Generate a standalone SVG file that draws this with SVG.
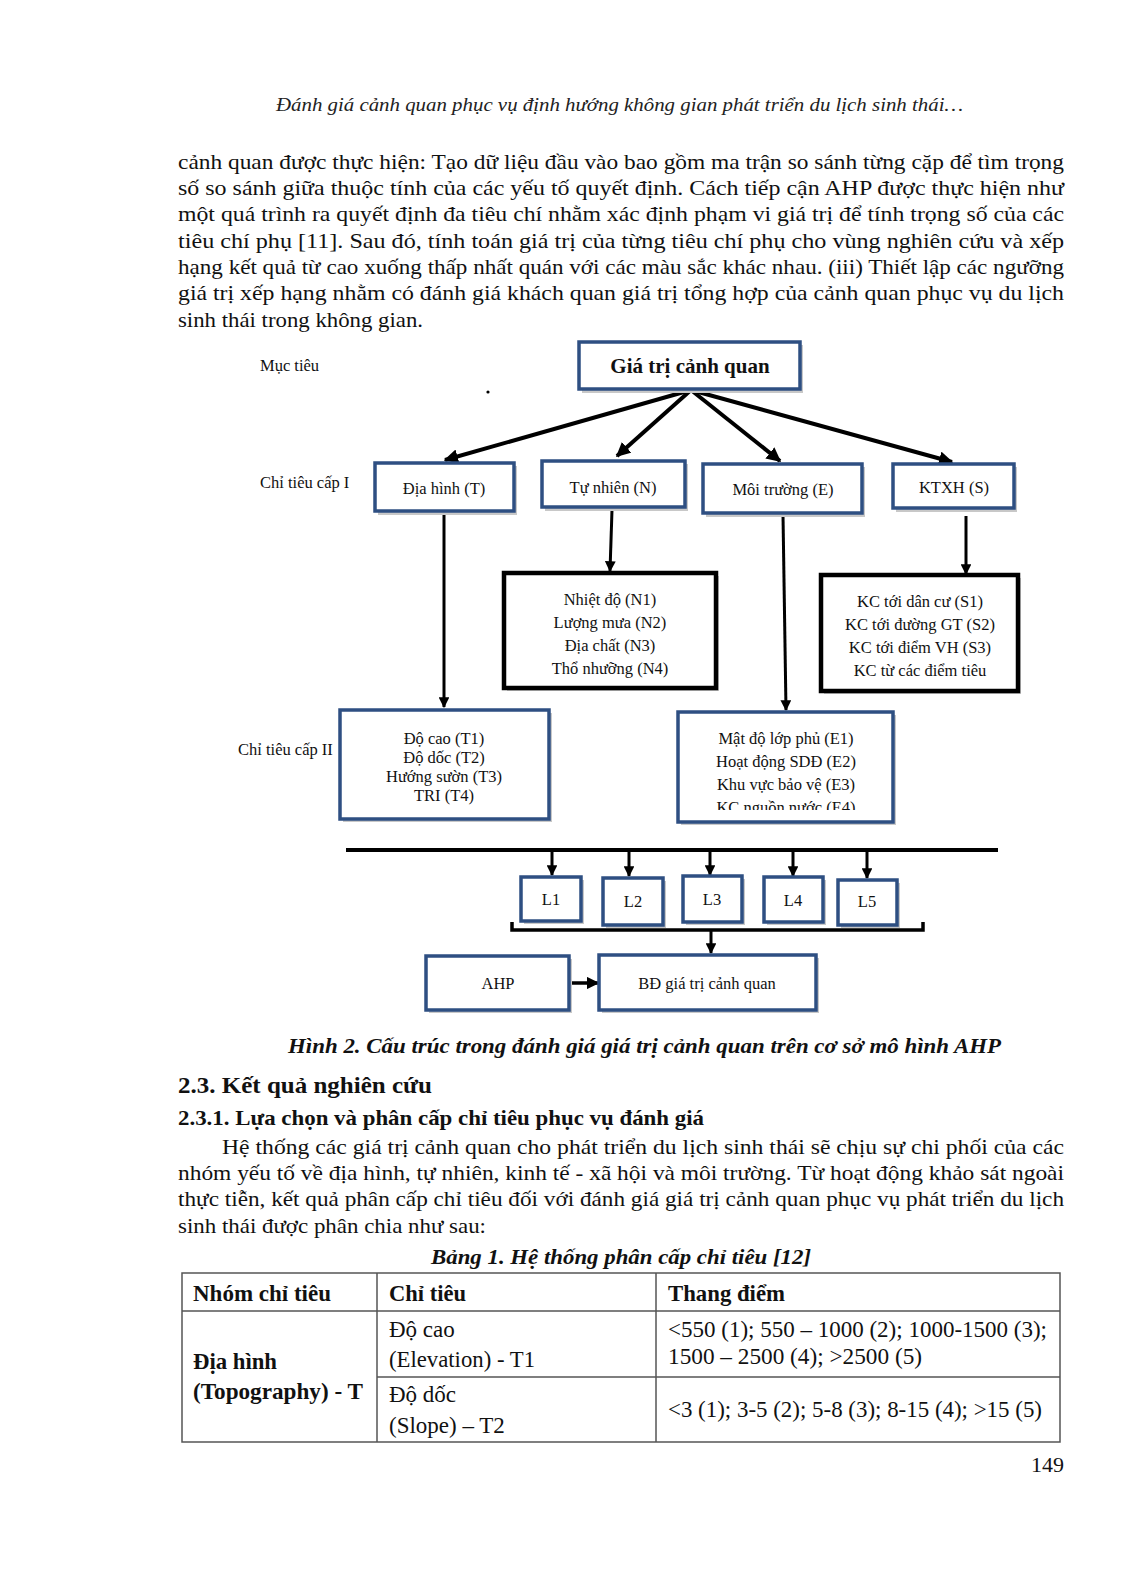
<svg xmlns="http://www.w3.org/2000/svg" width="1122" height="1594" viewBox="0 0 1122 1594">
<style>
.body{font-family:"Liberation Serif",serif;font-size:22px;fill:#111;}
.tbt{font-family:"Liberation Serif",serif;font-size:23px;fill:#111;}
.hdr{font-family:"Liberation Serif",serif;font-size:18px;font-style:italic;fill:#222;}
.lbl{font-family:"Liberation Serif",serif;font-size:16.5px;fill:#111;}
.bt{font-family:"Liberation Serif",serif;font-size:16.5px;fill:#111;text-anchor:middle;}
.bx{fill:#fff;stroke:#2E4F82;stroke-width:3.5;}
.kx{fill:#fff;stroke:#000;stroke-width:4.5;}
.sh{fill:#c8c8c8;}
.ln{stroke:#000;fill:none;}
.b{font-weight:bold;}
.bi{font-weight:bold;font-style:italic;}
.tb{stroke:#555;stroke-width:1.5;fill:none;}
</style>
<defs>
<marker id="ah" viewBox="0 0 10 10" refX="9" refY="5" markerWidth="3.6" markerHeight="3.6" orient="auto" markerUnits="strokeWidth">
<path d="M0,0 L10,5 L0,10 z" fill="#000"/>
</marker>
<marker id="ah2" viewBox="0 0 10 10" refX="9" refY="5" markerWidth="3.6" markerHeight="3.6" orient="auto" markerUnits="strokeWidth">
<path d="M0,0 L10,5 L0,10 z" fill="#000"/>
</marker>
<clipPath id="clipE"><rect x="678" y="712" width="215" height="98"/></clipPath>
</defs>
<rect width="1122" height="1594" fill="#fff"/>

<g id="header">
<text class="hdr" x="276" y="111" textLength="687" lengthAdjust="spacingAndGlyphs">Đánh giá cảnh quan phục vụ định hướng không gian phát triển du lịch sinh thái…</text>
</g>

<g id="para1" class="body">
<text x="178" y="169" textLength="886" lengthAdjust="spacingAndGlyphs">cảnh quan được thực hiện: Tạo dữ liệu đầu vào bao gồm ma trận so sánh từng cặp để tìm trọng</text>
<text x="178" y="195" textLength="886" lengthAdjust="spacingAndGlyphs">số so sánh giữa thuộc tính của các yếu tố quyết định. Cách tiếp cận AHP được thực hiện như</text>
<text x="178" y="221" textLength="886" lengthAdjust="spacingAndGlyphs">một quá trình ra quyết định đa tiêu chí nhằm xác định phạm vi giá trị để tính trọng số của các</text>
<text x="178" y="248" textLength="886" lengthAdjust="spacingAndGlyphs">tiêu chí phụ [11]. Sau đó, tính toán giá trị của từng tiêu chí phụ cho vùng nghiên cứu và xếp</text>
<text x="178" y="274" textLength="886" lengthAdjust="spacingAndGlyphs">hạng kết quả từ cao xuống thấp nhất quán với các màu sắc khác nhau. (iii) Thiết lập các ngưỡng</text>
<text x="178" y="300" textLength="886" lengthAdjust="spacingAndGlyphs">giá trị xếp hạng nhằm có đánh giá khách quan giá trị tổng hợp của cảnh quan phục vụ du lịch</text>
<text x="178" y="327" textLength="245" lengthAdjust="spacingAndGlyphs">sinh thái trong không gian.</text>
</g>

<g id="level-labels" class="lbl">
<text x="260" y="371">Mục tiêu</text>
<text x="260" y="488">Chỉ tiêu cấp I</text>
<text x="238" y="755">Chỉ tiêu cấp II</text>
</g>
<circle cx="488" cy="392" r="1.6" fill="#000"/>

<g id="connectors">
<line class="ln" stroke-width="4" x1="691" y1="390" x2="445" y2="460" marker-end="url(#ah)"/>
<line class="ln" stroke-width="4" x1="691" y1="390" x2="617" y2="456" marker-end="url(#ah)"/>
<line class="ln" stroke-width="4" x1="691" y1="390" x2="780" y2="461" marker-end="url(#ah)"/>
<line class="ln" stroke-width="4" x1="691" y1="390" x2="952" y2="462" marker-end="url(#ah)"/>
<line class="ln" stroke-width="3" x1="444" y1="512" x2="444" y2="707" marker-end="url(#ah2)"/>
<line class="ln" stroke-width="3" x1="612" y1="510" x2="610" y2="571" marker-end="url(#ah2)"/>
<line class="ln" stroke-width="3" x1="783" y1="515" x2="786" y2="710" marker-end="url(#ah2)"/>
<line class="ln" stroke-width="3" x1="966" y1="516" x2="966" y2="574" marker-end="url(#ah2)"/>
<line class="ln" stroke-width="4" x1="346" y1="850" x2="998" y2="850"/>
<line class="ln" stroke-width="3" x1="552" y1="852" x2="552" y2="875" marker-end="url(#ah2)"/>
<line class="ln" stroke-width="3" x1="629" y1="852" x2="629" y2="876" marker-end="url(#ah2)"/>
<line class="ln" stroke-width="3" x1="710" y1="852" x2="710" y2="875" marker-end="url(#ah2)"/>
<line class="ln" stroke-width="3" x1="793" y1="852" x2="793" y2="876" marker-end="url(#ah2)"/>
<line class="ln" stroke-width="3" x1="867" y1="852" x2="867" y2="878" marker-end="url(#ah2)"/>
<path class="ln" stroke-width="3.5" d="M512,922 L512,930 L923,930 L923,922"/>
<line class="ln" stroke-width="3" x1="711" y1="930" x2="711" y2="953" marker-end="url(#ah2)"/>
<line class="ln" stroke-width="3.5" x1="569" y1="983" x2="598" y2="983" marker-end="url(#ah2)"/>
</g>

<g id="node-goal">
<rect class="sh" x="582" y="345" width="221" height="48"/>
<rect class="bx" x="579" y="342" width="221" height="47"/>
<text class="bt b" x="690" y="373" style="font-size:21px">Giá trị cảnh quan</text>
</g>

<g id="node-T">
<rect class="sh" x="378" y="466" width="139" height="49"/>
<rect class="bx" x="375" y="463" width="139" height="48"/>
<text class="bt" x="444" y="494">Địa hình (T)</text>
</g>
<g id="node-N">
<rect class="sh" x="545" y="464" width="143" height="47"/>
<rect class="bx" x="542" y="461" width="143" height="46"/>
<text class="bt" x="613" y="493">Tự nhiên (N)</text>
</g>
<g id="node-E">
<rect class="sh" x="706" y="467" width="159" height="50"/>
<rect class="bx" x="703" y="464" width="159" height="49"/>
<text class="bt" x="783" y="495">Môi trường (E)</text>
</g>
<g id="node-S">
<rect class="sh" x="896" y="467" width="121" height="45"/>
<rect class="bx" x="893" y="464" width="121" height="44"/>
<text class="bt" x="954" y="493">KTXH (S)</text>
</g>

<g id="node-N-sub">
<rect class="sh" x="507" y="576" width="212" height="115"/>
<rect class="kx" x="504" y="573" width="212" height="115"/>
<text class="bt" x="610" y="605">Nhiệt độ (N1)</text>
<text class="bt" x="610" y="628">Lượng mưa (N2)</text>
<text class="bt" x="610" y="651">Địa chất (N3)</text>
<text class="bt" x="610" y="674">Thổ nhưỡng (N4)</text>
</g>
<g id="node-S-sub">
<rect class="sh" x="824" y="578" width="197" height="116"/>
<rect class="kx" x="821" y="575" width="197" height="116"/>
<text class="bt" x="920" y="607">KC tới dân cư (S1)</text>
<text class="bt" x="920" y="630">KC tới đường GT (S2)</text>
<text class="bt" x="920" y="653">KC tới điểm VH (S3)</text>
<text class="bt" x="920" y="676">KC từ các điểm tiêu</text>
</g>

<g id="node-T-sub">
<rect class="sh" x="343" y="713" width="209" height="109"/>
<rect class="bx" x="340" y="710" width="209" height="109"/>
<text class="bt" x="444" y="744">Độ cao (T1)</text>
<text class="bt" x="444" y="763">Độ dốc (T2)</text>
<text class="bt" x="444" y="782">Hướng sườn (T3)</text>
<text class="bt" x="444" y="801">TRI (T4)</text>
</g>
<g id="node-E-sub">
<rect class="sh" x="681" y="715" width="215" height="110"/>
<rect class="bx" x="678" y="712" width="215" height="110"/>
<g clip-path="url(#clipE)">
<text class="bt" x="786" y="744">Mật độ lớp phủ (E1)</text>
<text class="bt" x="786" y="767">Hoạt động SDĐ (E2)</text>
<text class="bt" x="786" y="790">Khu vực bảo vệ (E3)</text>
<text class="bt" x="786" y="813">KC nguồn nước (E4)</text>
</g>
</g>

<g id="node-L1"><rect class="sh" x="524" y="880" width="60" height="44"/><rect class="bx" x="521" y="877" width="60" height="44"/><text class="bt" x="551" y="905">L1</text></g>
<g id="node-L2"><rect class="sh" x="606" y="881" width="60" height="47"/><rect class="bx" x="603" y="878" width="60" height="47"/><text class="bt" x="633" y="907">L2</text></g>
<g id="node-L3"><rect class="sh" x="686" y="879" width="59" height="46"/><rect class="bx" x="683" y="876" width="59" height="46"/><text class="bt" x="712" y="905">L3</text></g>
<g id="node-L4"><rect class="sh" x="767" y="880" width="59" height="45"/><rect class="bx" x="764" y="877" width="59" height="45"/><text class="bt" x="793" y="906">L4</text></g>
<g id="node-L5"><rect class="sh" x="841" y="883" width="59" height="45"/><rect class="bx" x="838" y="880" width="59" height="45"/><text class="bt" x="867" y="907">L5</text></g>

<g id="node-AHP">
<rect class="sh" x="429" y="959" width="143" height="54"/>
<rect class="bx" x="426" y="956" width="143" height="54"/>
<text class="bt" x="498" y="989">AHP</text>
</g>
<g id="node-BD">
<rect class="sh" x="602" y="958" width="217" height="55"/>
<rect class="bx" x="599" y="955" width="217" height="55"/>
<text class="bt" x="707" y="989">BĐ giá trị cảnh quan</text>
</g>

<g id="captions" class="body">
<text class="bi" x="288" y="1053" textLength="713" lengthAdjust="spacingAndGlyphs">Hình 2. Cấu trúc trong đánh giá giá trị cảnh quan trên cơ sở mô hình AHP</text>
<text class="b" x="178" y="1093" style="font-size:23px" textLength="254" lengthAdjust="spacingAndGlyphs">2.3. Kết quả nghiên cứu</text>
<text class="b" x="178" y="1125" textLength="526" lengthAdjust="spacingAndGlyphs">2.3.1. Lựa chọn và phân cấp chỉ tiêu phục vụ đánh giá</text>
</g>

<g id="para2" class="body">
<text x="222" y="1154" textLength="842" lengthAdjust="spacingAndGlyphs">Hệ thống các giá trị cảnh quan cho phát triển du lịch sinh thái sẽ chịu sự chi phối của các</text>
<text x="178" y="1180" textLength="886" lengthAdjust="spacingAndGlyphs">nhóm yếu tố về địa hình, tự nhiên, kinh tế - xã hội và môi trường. Từ hoạt động khảo sát ngoài</text>
<text x="178" y="1206" textLength="886" lengthAdjust="spacingAndGlyphs">thực tiễn, kết quả phân cấp chỉ tiêu đối với đánh giá giá trị cảnh quan phục vụ phát triển du lịch</text>
<text x="178" y="1233" textLength="308" lengthAdjust="spacingAndGlyphs">sinh thái được phân chia như sau:</text>
<text class="bi" x="431" y="1264" textLength="380" lengthAdjust="spacingAndGlyphs">Bảng 1. Hệ thống phân cấp chỉ tiêu [12]</text>
</g>

<g id="table">
<rect class="tb" x="182" y="1273" width="878" height="169"/>
<line class="tb" x1="182" y1="1311" x2="1060" y2="1311"/>
<line class="tb" x1="377" y1="1273" x2="377" y2="1442"/>
<line class="tb" x1="656" y1="1273" x2="656" y2="1442"/>
<line class="tb" x1="377" y1="1377" x2="1060" y2="1377"/>
<g class="tbt">
<text class="b" x="193" y="1301" textLength="138" lengthAdjust="spacingAndGlyphs">Nhóm chỉ tiêu</text>
<text class="b" x="389" y="1301" textLength="77" lengthAdjust="spacingAndGlyphs">Chỉ tiêu</text>
<text class="b" x="668" y="1301" textLength="117" lengthAdjust="spacingAndGlyphs">Thang điểm</text>
<text class="b" x="193" y="1369" textLength="84" lengthAdjust="spacingAndGlyphs">Địa hình</text>
<text class="b" x="193" y="1399" textLength="170" lengthAdjust="spacingAndGlyphs">(Topography) - T</text>
<text x="389" y="1337">Độ cao</text>
<text x="389" y="1367" textLength="146" lengthAdjust="spacingAndGlyphs">(Elevation) - T1</text>
<text x="668" y="1337" textLength="379" lengthAdjust="spacingAndGlyphs">&lt;550 (1); 550 – 1000 (2); 1000-1500 (3);</text>
<text x="668" y="1364" textLength="254" lengthAdjust="spacingAndGlyphs">1500 – 2500 (4); &gt;2500 (5)</text>
<text x="389" y="1402">Độ dốc</text>
<text x="389" y="1433">(Slope) – T2</text>
<text x="668" y="1417" textLength="374" lengthAdjust="spacingAndGlyphs">&lt;3 (1); 3-5 (2); 5-8 (3); 8-15 (4); &gt;15 (5)</text>
</g>
</g>

<g id="page-number">
<text class="body" x="1064" y="1472" text-anchor="end">149</text>
</g>
</svg>
